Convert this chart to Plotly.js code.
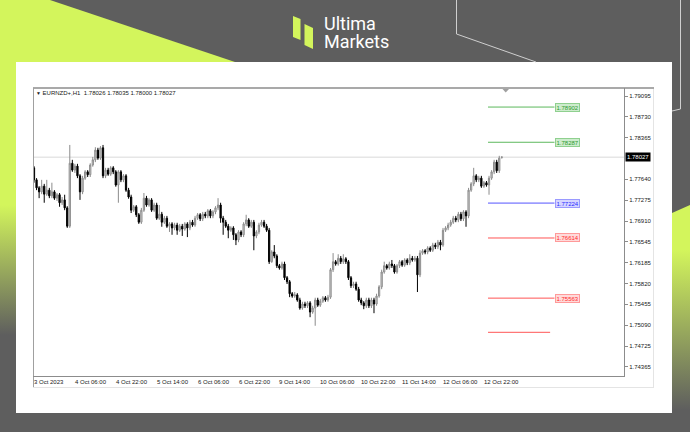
<!DOCTYPE html>
<html>
<head>
<meta charset="utf-8">
<script src="https://cdn.plot.ly/plotly-3.0.1.min.js"></script>
<style>html,body{margin:0;padding:0;background:#5e5e5e;}#chart{width:690px;height:432px;}</style>
</head>
<body>
<div id="chart"></div>
<script>
// ---- data (EURNZD+, H1) ----
const symbolName = 'EURNZD+,H1';
const openP = [1.7784,1.7763,1.7749,1.7742,1.7752,1.7738,1.7745,1.7735,1.7742,1.7731,
1.7737,1.7723,1.7728,1.7714,1.7682,1.7792,1.7780,1.7787,1.7770,1.7742,
1.7766,1.7777,1.7772,1.7789,1.7798,1.7815,1.7801,1.7819,1.7770,1.7780,
1.7773,1.7784,1.7777,1.7754,1.7777,1.7763,1.7770,1.7745,1.7733,1.7710,
1.7716,1.7702,1.7689,1.7710,1.7731,1.7719,1.7728,1.7710,1.7719,1.7696,
1.7703,1.7689,1.7696,1.7682,1.7686,1.7679,1.7684,1.7675,1.7682,1.7677,
1.7686,1.7679,1.7689,1.7684,1.7696,1.7702,1.7695,1.7703,1.7700,1.7709,
1.7700,1.7707,1.7714,1.7719,1.7696,1.7689,1.7682,1.7675,1.7679,1.7667,
1.7658,1.7672,1.7667,1.7686,1.7693,1.7682,1.7689,1.7665,1.7672,1.7684,
1.7689,1.7682,1.7675,1.7620,1.7637,1.7630,1.7613,1.7609,1.7616,1.7592,
1.7585,1.7564,1.7560,1.7562,1.7553,1.7539,1.7546,1.7543,1.7548,1.7532,
1.7539,1.7553,1.7544,1.7551,1.7557,1.7553,1.7558,1.7606,1.7620,1.7616,
1.7626,1.7620,1.7625,1.7620,1.7592,1.7578,1.7581,1.7572,1.7553,1.7548,
1.7543,1.7553,1.7543,1.7553,1.7546,1.7560,1.7576,1.7602,1.7613,1.7609,
1.7616,1.7613,1.7602,1.7613,1.7620,1.7614,1.7623,1.7618,1.7626,1.7623,
1.7626,1.7597,1.7635,1.7639,1.7637,1.7644,1.7640,1.7649,1.7646,1.7654,
1.7649,1.7675,1.7679,1.7684,1.7689,1.7696,1.7693,1.7703,1.7695,1.7707,
1.7700,1.7745,1.7756,1.7770,1.7763,1.7766,1.7752,1.7758,1.7754,1.7766,
1.7777,1.7794,1.7779,1.78026];
const highP = [1.7787,1.7766,1.7752,1.7763,1.7756,1.7763,1.7749,1.7758,1.7745,1.7740,
1.7740,1.7733,1.7737,1.7717,1.7824,1.7798,1.7791,1.7791,1.7773,1.7770,
1.7780,1.7780,1.7792,1.7803,1.7820,1.7819,1.7822,1.7824,1.7784,1.7784,
1.7787,1.7787,1.7780,1.7780,1.7780,1.7773,1.7773,1.7749,1.7737,1.7719,
1.7719,1.7705,1.7714,1.7740,1.7735,1.7731,1.7731,1.7723,1.7723,1.7719,
1.7707,1.7700,1.7700,1.7689,1.7689,1.7688,1.7688,1.7686,1.7686,1.7689,
1.7689,1.7693,1.7693,1.7700,1.7705,1.7705,1.7707,1.7707,1.7712,1.7712,
1.7710,1.7717,1.7731,1.7723,1.7700,1.7693,1.7686,1.7682,1.7682,1.7670,
1.7675,1.7675,1.7689,1.7702,1.7696,1.7693,1.7693,1.7675,1.7688,1.7693,
1.7693,1.7686,1.7679,1.7640,1.7649,1.7633,1.7616,1.7620,1.7620,1.7595,
1.7588,1.7567,1.7567,1.7565,1.7557,1.7550,1.7550,1.7551,1.7551,1.7543,
1.7557,1.7557,1.7555,1.7560,1.7560,1.7562,1.7609,1.7635,1.7623,1.7633,
1.7630,1.7633,1.7628,1.7623,1.7595,1.7585,1.7585,1.7576,1.7557,1.7551,
1.7557,1.7557,1.7557,1.7557,1.7564,1.7579,1.7606,1.7620,1.7616,1.7620,
1.7623,1.7616,1.7616,1.7623,1.7623,1.7626,1.7626,1.7633,1.7630,1.7630,
1.7630,1.7640,1.7642,1.7642,1.7647,1.7647,1.7653,1.7653,1.7658,1.7658,
1.7679,1.7682,1.7688,1.7693,1.7700,1.7700,1.7707,1.7707,1.7710,1.7710,
1.7749,1.7759,1.7784,1.7773,1.7770,1.7770,1.7761,1.7761,1.7770,1.7780,
1.7798,1.7798,1.7805,1.78035];
const lowP = [1.7758,1.7745,1.7731,1.7738,1.7723,1.7735,1.7731,1.7731,1.7728,1.7726,
1.7716,1.7719,1.7710,1.7679,1.7679,1.7777,1.7775,1.7766,1.7728,1.7738,
1.7763,1.7768,1.7768,1.7786,1.7794,1.7798,1.7798,1.7766,1.7766,1.7770,
1.7770,1.7773,1.7751,1.7723,1.7759,1.7759,1.7742,1.7730,1.7705,1.7707,
1.7698,1.7686,1.7686,1.7707,1.7716,1.7716,1.7707,1.7707,1.7693,1.7693,
1.7681,1.7686,1.7679,1.7672,1.7667,1.7675,1.7667,1.7672,1.7665,1.7674,
1.7663,1.7675,1.7681,1.7681,1.7693,1.7691,1.7691,1.7696,1.7696,1.7696,
1.7696,1.7703,1.7710,1.7688,1.7667,1.7679,1.7661,1.7672,1.7658,1.7649,
1.7654,1.7663,1.7663,1.7682,1.7679,1.7679,1.7640,1.7661,1.7668,1.7681,
1.7679,1.7672,1.7616,1.7618,1.7626,1.7609,1.7606,1.7606,1.7588,1.7581,
1.7558,1.7557,1.7557,1.7550,1.7536,1.7536,1.7539,1.7539,1.7523,1.7529,
1.7508,1.7541,1.7541,1.7548,1.7550,1.7550,1.7555,1.7602,1.7613,1.7613,
1.7616,1.7616,1.7616,1.7588,1.7574,1.7574,1.7569,1.7550,1.7544,1.7537,
1.7539,1.7539,1.7539,1.7530,1.7543,1.7557,1.7572,1.7599,1.7606,1.7606,
1.7609,1.7599,1.7599,1.7609,1.7611,1.7611,1.7614,1.7614,1.7620,1.7620,
1.7567,1.7593,1.7632,1.7633,1.7633,1.7637,1.7637,1.7642,1.7642,1.7640,
1.7646,1.7672,1.7675,1.7681,1.7686,1.7689,1.7689,1.7691,1.7691,1.7681,
1.7696,1.7742,1.7752,1.7759,1.7759,1.7749,1.7749,1.7751,1.7737,1.7763,
1.7773,1.7775,1.7775,1.78000];
const closeP = [1.7763,1.7749,1.7742,1.7752,1.7738,1.7745,1.7735,1.7742,1.7731,1.7737,
1.7723,1.7728,1.7714,1.7682,1.7792,1.7780,1.7787,1.7770,1.7742,1.7766,
1.7777,1.7772,1.7789,1.7798,1.7815,1.7801,1.7819,1.7770,1.7780,1.7773,
1.7784,1.7777,1.7754,1.7777,1.7763,1.7770,1.7745,1.7733,1.7710,1.7716,
1.7702,1.7689,1.7710,1.7731,1.7719,1.7728,1.7710,1.7719,1.7696,1.7703,
1.7689,1.7696,1.7682,1.7686,1.7679,1.7684,1.7675,1.7682,1.7677,1.7686,
1.7679,1.7689,1.7684,1.7696,1.7702,1.7695,1.7703,1.7700,1.7709,1.7700,
1.7707,1.7714,1.7719,1.7696,1.7689,1.7682,1.7675,1.7679,1.7667,1.7658,
1.7672,1.7667,1.7686,1.7693,1.7682,1.7689,1.7665,1.7672,1.7684,1.7689,
1.7682,1.7675,1.7620,1.7637,1.7630,1.7613,1.7609,1.7616,1.7592,1.7585,
1.7564,1.7560,1.7562,1.7553,1.7539,1.7546,1.7543,1.7548,1.7532,1.7539,
1.7553,1.7544,1.7551,1.7557,1.7553,1.7558,1.7606,1.7620,1.7616,1.7626,
1.7620,1.7625,1.7620,1.7592,1.7578,1.7581,1.7572,1.7553,1.7548,1.7543,
1.7553,1.7543,1.7553,1.7546,1.7560,1.7576,1.7602,1.7613,1.7609,1.7616,
1.7613,1.7602,1.7613,1.7620,1.7614,1.7623,1.7618,1.7626,1.7623,1.7626,
1.7597,1.7635,1.7639,1.7637,1.7644,1.7640,1.7649,1.7646,1.7654,1.7649,
1.7675,1.7679,1.7684,1.7689,1.7696,1.7693,1.7703,1.7695,1.7707,1.7700,
1.7745,1.7756,1.7770,1.7763,1.7766,1.7752,1.7758,1.7754,1.7766,1.7777,
1.7794,1.7779,1.7801,1.78027];

const xTickIdx = [0,16,32,48,64,80,96,112,128,144,160,176];
const xTickText = ['3 Oct 2023','4 Oct 06:00','4 Oct 22:00','5 Oct 14:00','6 Oct 06:00','6 Oct 22:00',
                   '9 Oct 14:00','10 Oct 06:00','10 Oct 22:00','11 Oct 14:00','12 Oct 06:00','12 Oct 22:00'];
const yTickVals = [1.79095,1.78730,1.78365,1.77640,1.77275,1.76910,1.76545,1.76185,1.75820,1.75455,1.75090,1.74725,1.74365];

const levelPrices = [1.78902, 1.78287, 1.77224, 1.76614, 1.75563, 1.74966];
const levelLabeled = [true, true, true, true, true, false];
const levelKind = ['green','green','blue','red','red','red'];

// ---- styles ----
const LIME = '#d3f55c', GRAY = '#5e5e5e';
const kindStyle = {
  green: {line:'#5cb85c', text:'#2e9a2e', bg:'#cdeccd', border:'#8fd08f'},
  blue:  {line:'#5555ff', text:'#2a2aff', bg:'#d6d6ff', border:'#9a9aff'},
  red:   {line:'#ff5555', text:'#ff2a2a', bg:'#ffdada', border:'#ff9a9a'}
};
const W = 690, H = 432;
const px = x => x / W;
const py = y => 1 - y / H;
const FONT = 'Liberation Sans, DejaVu Sans, sans-serif';

const n = closeP.length;
const xIdx = closeP.map((_, i) => i);
const last = n - 1;

const traces = [];
// decorative background polygons (full-figure axes x/y in pixel units)
traces.push({type:'scatter', xaxis:'x', yaxis:'y', x:[0,50,235,0], y:[0,0,62,62], fill:'toself', mode:'none',
  fillcolor: LIME, hoverinfo:'skip', showlegend:false});
traces.push({type:'scatter', xaxis:'x', yaxis:'y', x:[0,16,16,0], y:[61,61,432,432], fill:'toself', mode:'none',
  fillgradient:{type:'vertical', colorscale:[[0,LIME],[1,GRAY]], start:205, stop:335}, hoverinfo:'skip', showlegend:false});
traces.push({type:'scatter', xaxis:'x', yaxis:'y', x:[672,690,690,672], y:[213,205,432,432], fill:'toself', mode:'none',
  fillgradient:{type:'vertical', colorscale:[[0,LIME],[1,GRAY]], start:250, stop:410}, hoverinfo:'skip', showlegend:false});

// candles
traces.push({
  type:'candlestick', xaxis:'x2', yaxis:'y2',
  x: xIdx, open: openP, high: highP, low: lowP, close: closeP,
  increasing: {line:{color:'#8c8c8c', width:1}, fillcolor:'#dcdcdc'},
  decreasing: {line:{color:'#000000', width:1}, fillcolor:'#000000'},
  whiskerwidth: 0, hoverinfo:'skip', showlegend:false
});

const shapes = [];
// white panel
shapes.push({type:'rect', xref:'paper', yref:'paper', x0:px(16), x1:px(672), y0:py(413), y1:py(62),
  fillcolor:'#ffffff', line:{width:0}, layer:'below'});
// thin decorative lines
shapes.push({type:'path', xref:'paper', yref:'paper', path:`M ${px(456.5)},${py(-1)} L ${px(456.5)},${py(34)} L ${px(536)},${py(62)}`,
  line:{color:'#cfcfcf', width:1}, layer:'above'});
shapes.push({type:'path', xref:'paper', yref:'paper', path:`M ${px(680.5)},${py(-1)} L ${px(680.5)},${py(109)} L ${px(672)},${py(111)}`,
  line:{color:'#cfcfcf', width:1}, layer:'above'});
// logo icon
shapes.push({type:'path', xref:'paper', yref:'paper', path:`M ${px(293)},${py(16)} L ${px(300.5)},${py(19)} L ${px(300.5)},${py(40)} L ${px(293)},${py(37)} Z`,
  fillcolor:LIME, line:{width:0}, layer:'above'});
shapes.push({type:'path', xref:'paper', yref:'paper', path:`M ${px(304.5)},${py(24)} L ${px(313)},${py(28)} L ${px(313)},${py(49)} L ${px(304.5)},${py(45)} Z`,
  fillcolor:LIME, line:{width:0}, layer:'above'});

// chart window frame
const frameLine = (x0,y0,x1,y1,color,w) => shapes.push({type:'line', xref:'paper', yref:'paper',
  x0:px(x0), y0:py(y0), x1:px(x1), y1:py(y1), line:{color:color, width:w}, layer:'above'});
frameLine(33, 88, 654, 88, '#a9a9a9', 2);
frameLine(33.5, 88, 33.5, 387, '#a0a0a0', 1);
frameLine(33, 376.5, 624, 376.5, '#8c8c8c', 1);
frameLine(624.5, 88, 624.5, 377, '#8c8c8c', 1);
frameLine(653.5, 89, 653.5, 387, '#e4e4e4', 1);
frameLine(33, 387.5, 654, 387.5, '#e4e4e4', 1);
// chart-shift marker
shapes.push({type:'path', xref:'paper', yref:'paper',
  path:`M ${px(502.5)},${py(89)} L ${px(509)},${py(89)} L ${px(505.7)},${py(92.5)} Z`,
  fillcolor:'#a0a0a0', line:{width:0}, layer:'above'});

// current price line
shapes.push({type:'line', xref:'x2 domain', yref:'y2', x0:0, x1:1, y0:closeP[last], y1:closeP[last],
  line:{color:'#e6e6e6', width:1.5}, layer:'below'});

// level lines
levelPrices.forEach((p, k) => {
  shapes.push({type:'line', xref:'x2', yref:'y2', x0:177.6, x1: levelLabeled[k] ? 203.6 : 201.9, y0:p, y1:p,
    line:{color:kindStyle[levelKind[k]].line, width:1}});
});

const annotations = [];
// logo text
annotations.push({xref:'paper', yref:'paper', x:px(322), y:py(23.5), xanchor:'left', yanchor:'middle', showarrow:false,
  text:'Ultima', font:{family:'Roboto, sans-serif', size:18, color:'#ffffff'}});
annotations.push({xref:'paper', yref:'paper', x:px(322), y:py(41), xanchor:'left', yanchor:'middle', showarrow:false,
  text:'Markets', font:{family:'Roboto, sans-serif', size:18, color:'#ffffff'}});

// info line
annotations.push({xref:'paper', yref:'paper', x:px(34), y:py(93.5), xanchor:'left', yanchor:'middle', showarrow:false,
  text:'<span style="font-size:5px">▼</span> ' + symbolName + '  ' +
    [openP[last], highP[last], lowP[last], closeP[last]].map(v => v.toFixed(5)).join(' '),
  font:{family:FONT, size:6, color:'#202020'}});

// x labels
xTickIdx.forEach((ix, k) => {
  annotations.push({xref:'x2', yref:'paper', x:ix, y:py(382), xanchor:'left', yanchor:'middle', showarrow:false,
    xshift:-2, text:xTickText[k], font:{family:FONT, size:6, color:'#202020'}});
});

// level labels
levelPrices.forEach((p, k) => {
  if (!levelLabeled[k]) return;
  const s = kindStyle[levelKind[k]];
  annotations.push({xref:'x2', yref:'y2', x:204, y:p, xanchor:'left', yanchor:'middle', showarrow:false,
    text:p.toFixed(5), font:{family:FONT, size:6, color:s.text}, bgcolor:s.bg, bordercolor:s.border,
    borderwidth:1, borderpad:0.5});
});

// current price tag
annotations.push({xref:'paper', yref:'y2', x:px(625), y:closeP[last], xanchor:'left', yanchor:'middle', showarrow:false,
  text:closeP[last].toFixed(5), font:{family:FONT, size:6, color:'#ffffff'}, bgcolor:'#000000', borderpad:1});

const layout = {
  width: W, height: H,
  margin: {l:0, r:0, t:0, b:0, pad:0},
  paper_bgcolor: GRAY, plot_bgcolor: 'rgba(0,0,0,0)',
  showlegend: false,
  xaxis: {domain:[0,1], range:[0,W], visible:false, fixedrange:true},
  yaxis: {domain:[0,1], range:[H,0], visible:false, fixedrange:true},
  xaxis2: {domain:[px(33), px(624)], anchor:'y2', range:[-0.39, 230.8], showgrid:false, zeroline:false, showline:false,
    ticks:'', showticklabels:false,
    rangeslider:{visible:false}, fixedrange:true, automargin:false},
  yaxis2: {domain:[py(377), py(88)], anchor:'x2', side:'right', range:[1.74185, 1.79235], showgrid:false, zeroline:false,
    showline:false, ticks:'outside', ticklen:3, tickcolor:'#8c8c8c', tickvals:yTickVals,
    ticktext: yTickVals.map(v => v.toFixed(5)), tickfont:{family:FONT, size:6, color:'#202020'},
    fixedrange:true, automargin:false},
  shapes: shapes,
  annotations: annotations
};

Plotly.newPlot('chart', traces, layout, {staticPlot:true, displayModeBar:false});
</script>
</body>
</html>
